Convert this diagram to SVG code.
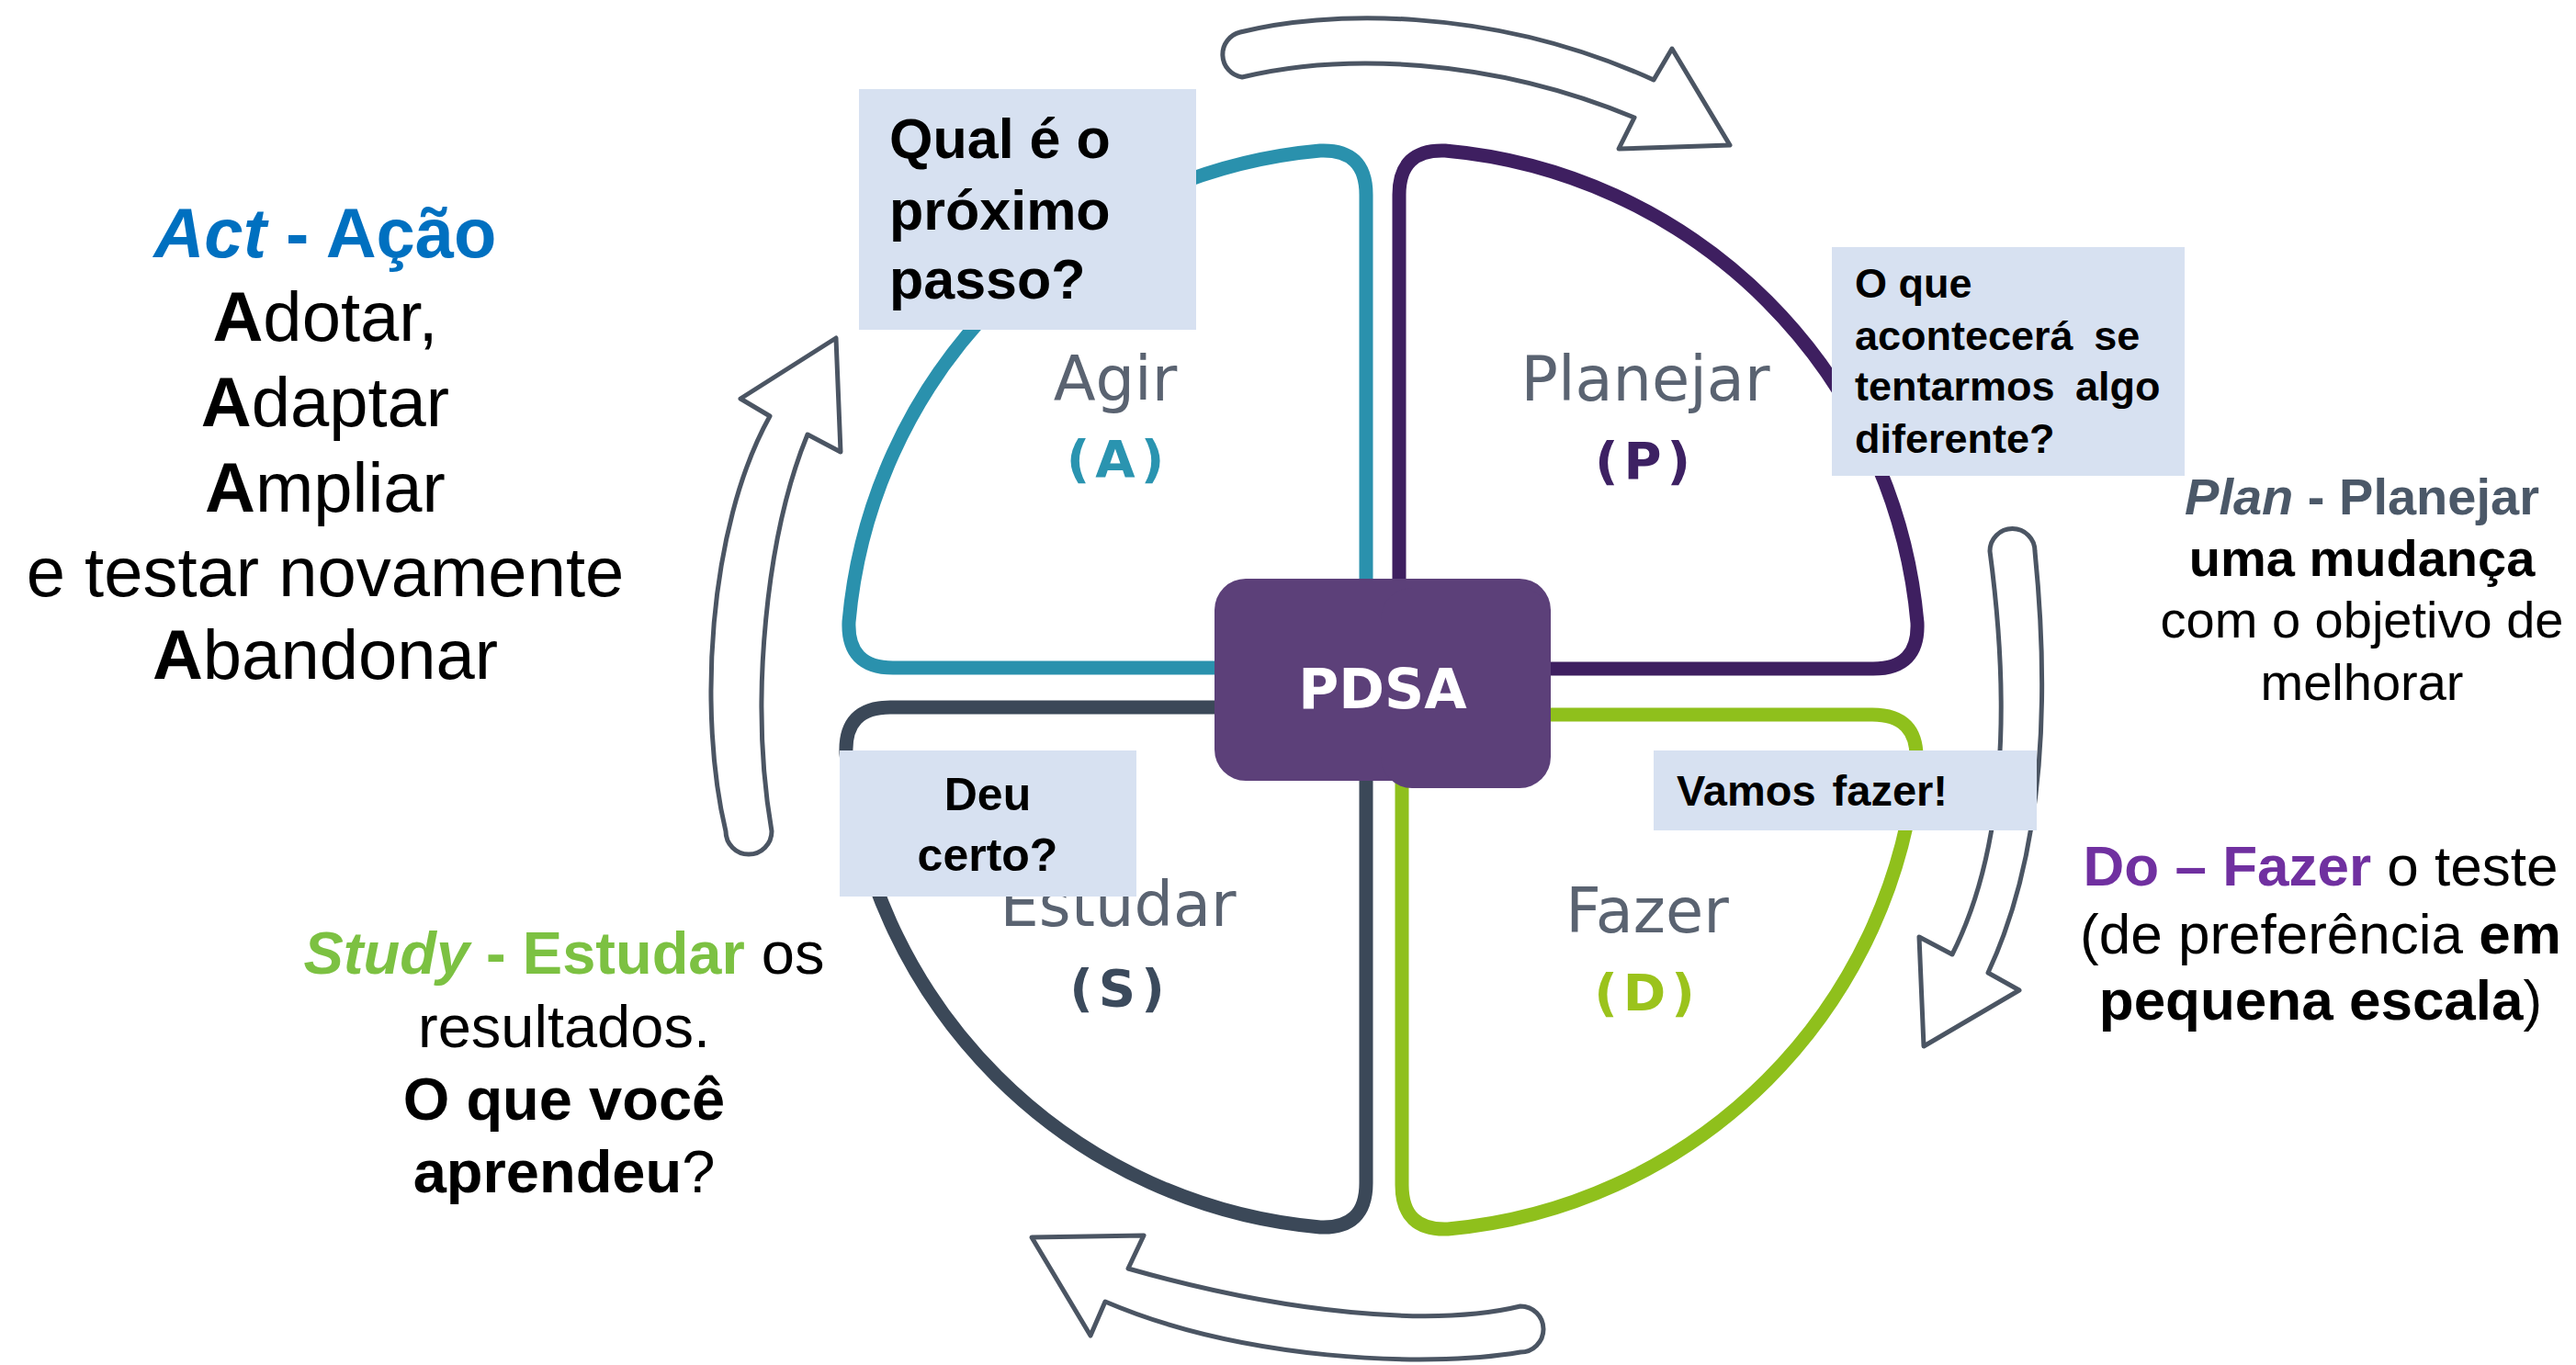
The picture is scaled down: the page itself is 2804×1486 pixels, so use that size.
<svg xmlns="http://www.w3.org/2000/svg" width="2804" height="1486" viewBox="0 0 2804 1486">
<style>
.arr{fill:#fff;stroke:#4b5563;stroke-width:5;stroke-linejoin:round}
.q{fill:#fff;stroke-width:15;stroke-linejoin:round}
.box{fill:#d7e1f1}
.lbl{font-family:"DejaVu Sans",sans-serif;font-size:67px;fill:#5a6371;text-anchor:middle}
.ltr{font-family:"DejaVu Sans",sans-serif;font-weight:bold;font-size:56px;text-anchor:middle;letter-spacing:6px}
.ar{font-family:"Liberation Sans",Arial,sans-serif}
.b{font-weight:bold}
.i{font-style:italic}
.mid{text-anchor:middle}
.cb{font-family:"Liberation Sans",Arial,sans-serif;font-weight:bold;fill:#000}
</style>
<rect width="2804" height="1486" fill="#fff"/>
<g id="connectors">
<path class="arr" d="M1350,35 C1440,12 1620,5 1800,87 L1820,53 L1883,158 L1762,162 L1779,128 C1620,62 1460,58 1352,84 A25,25 0 0 1 1350,35 Z"/>
<path class="arr" d="M2166,600 C2190,780 2180,930 2125,1039 L2089,1020 L2094,1139 L2198,1078 L2164,1059 C2215,950 2235,800 2215,600 A24.5,24.5 0 0 0 2166,600 Z"/>
<path class="arr" d="M1655,1422 C1560,1445 1400,1430 1228,1381 L1245,1345 L1123,1347 L1187,1454 L1203,1417 C1350,1480 1550,1490 1655,1472 A25,25 0 0 0 1655,1422 Z"/>
<path class="arr" d="M838,453 L806,434 L910,368 L915,492 L879,473 C835,580 815,760 840,905 A25,25 0 0 1 790,905 C760,780 770,575 838,453 Z"/>
</g>
<g id="quadrant-A">
<path class="q" stroke="#2a91ad" d="M1487,727 L1487,212 Q1487,162 1437,164 A565,565 0 0 0 924,677 Q922,727 972,727 Z"/>
<text class="lbl" x="1214" y="436">Agir</text>
<text class="ltr" x="1217" y="519" fill="#2a94b0">(A)</text>
</g>
<g id="quadrant-P">
<path class="q" stroke="#3e1f60" d="M1523,728 L1523,212 Q1523,162 1573,164 A566,566 0 0 1 2087,678 Q2089,728 2039,728 Z"/>
<text class="lbl" x="1791" y="436">Planejar</text>
<text class="ltr" x="1791" y="521" fill="#3d2163">(P)</text>
</g>
<g id="quadrant-S">
<path class="q" stroke="#3b4858" d="M1487,770 L1487,1288 Q1487,1338 1437,1336 A568,568 0 0 1 921,820 Q919,770 969,770 Z"/>
<text class="lbl" x="1217" y="1008">Estudar</text>
<text class="ltr" x="1219" y="1095" fill="#3b4a5c">(S)</text>
</g>
<g id="quadrant-D">
<path class="q" stroke="#8fc01c" d="M1526,778 L1526,1290 Q1526,1340 1576,1338 A562,562 0 0 0 2086,828 Q2088,778 2038,778 Z"/>
<text class="lbl" x="1793" y="1015">Fazer</text>
<text class="ltr" x="1793" y="1100" fill="#9bc31c">(D)</text>
</g>
<g id="pdsa">
<rect x="1322" y="630" width="366" height="220" rx="34" fill="#5c4079"/>
<rect x="1503" y="640" width="185" height="218" rx="34" fill="#5c4079"/>
<text x="1505" y="771" font-family="DejaVu Sans,sans-serif" font-weight="bold" font-size="60" fill="#fff" text-anchor="middle">PDSA</text>
</g>
<g id="callout-act">
<rect class="box" x="935" y="97" width="367" height="262"/>
<text class="cb" font-size="61"><tspan x="968" y="172">Qual é o</tspan><tspan x="968" y="250">próximo</tspan><tspan x="968" y="325">passo?</tspan></text>
</g>
<g id="callout-plan">
<rect class="box" x="1994" y="269" width="384" height="249"/>
<text class="cb" font-size="45"><tspan x="2019" y="324">O que</tspan><tspan x="2019" y="381" word-spacing="10">acontecerá se</tspan><tspan x="2019" y="436" word-spacing="10">tentarmos algo</tspan><tspan x="2019" y="493">diferente?</tspan></text>
</g>
<g id="callout-study">
<rect class="box" x="914" y="817" width="323" height="159"/>
<text class="cb mid" font-size="50"><tspan x="1075" y="882">Deu</tspan><tspan x="1075" y="948">certo?</tspan></text>
</g>
<g id="callout-do">
<rect class="box" x="1800" y="817" width="417" height="87"/>
<text class="cb" font-size="47" word-spacing="5" x="1825" y="877">Vamos fazer!</text>
</g>
<g id="text-act" class="ar mid" font-size="76" fill="#000">
<text x="354" y="280" class="b" fill="#0070c0"><tspan class="i">Act</tspan> - Ação</text>
<text x="354" y="371"><tspan class="b">A</tspan>dotar,</text>
<text x="354" y="464"><tspan class="b">A</tspan>daptar</text>
<text x="354" y="557"><tspan class="b">A</tspan>mpliar</text>
<text x="354" y="649">e testar novamente</text>
<text x="354" y="739"><tspan class="b">A</tspan>bandonar</text>
</g>
<g id="text-plan" class="ar mid" font-size="56" fill="#000">
<text x="2571" y="560" class="b" fill="#4b5868"><tspan class="i">Plan</tspan> - Planejar</text>
<text x="2571" y="627" class="b">uma mudança</text>
<text x="2571" y="694">com o objetivo de</text>
<text x="2571" y="762">melhorar</text>
</g>
<g id="text-do" class="ar mid" font-size="62" fill="#000">
<text x="2526" y="964"><tspan class="b" fill="#7030a0">Do – Fazer</tspan> o teste</text>
<text x="2526" y="1038">(de preferência <tspan class="b">em</tspan></text>
<text x="2526" y="1110"><tspan class="b">pequena escala</tspan>)</text>
</g>
<g id="text-study" class="ar mid" font-size="65" fill="#000">
<text x="614" y="1060"><tspan class="b i" fill="#7cc142">Study</tspan><tspan class="b" fill="#7cc142"> - Estudar</tspan> os</text>
<text x="614" y="1140">resultados.</text>
<text x="614" y="1219" class="b">O que você</text>
<text x="614" y="1298"><tspan class="b">aprendeu</tspan>?</text>
</g>
</svg>
